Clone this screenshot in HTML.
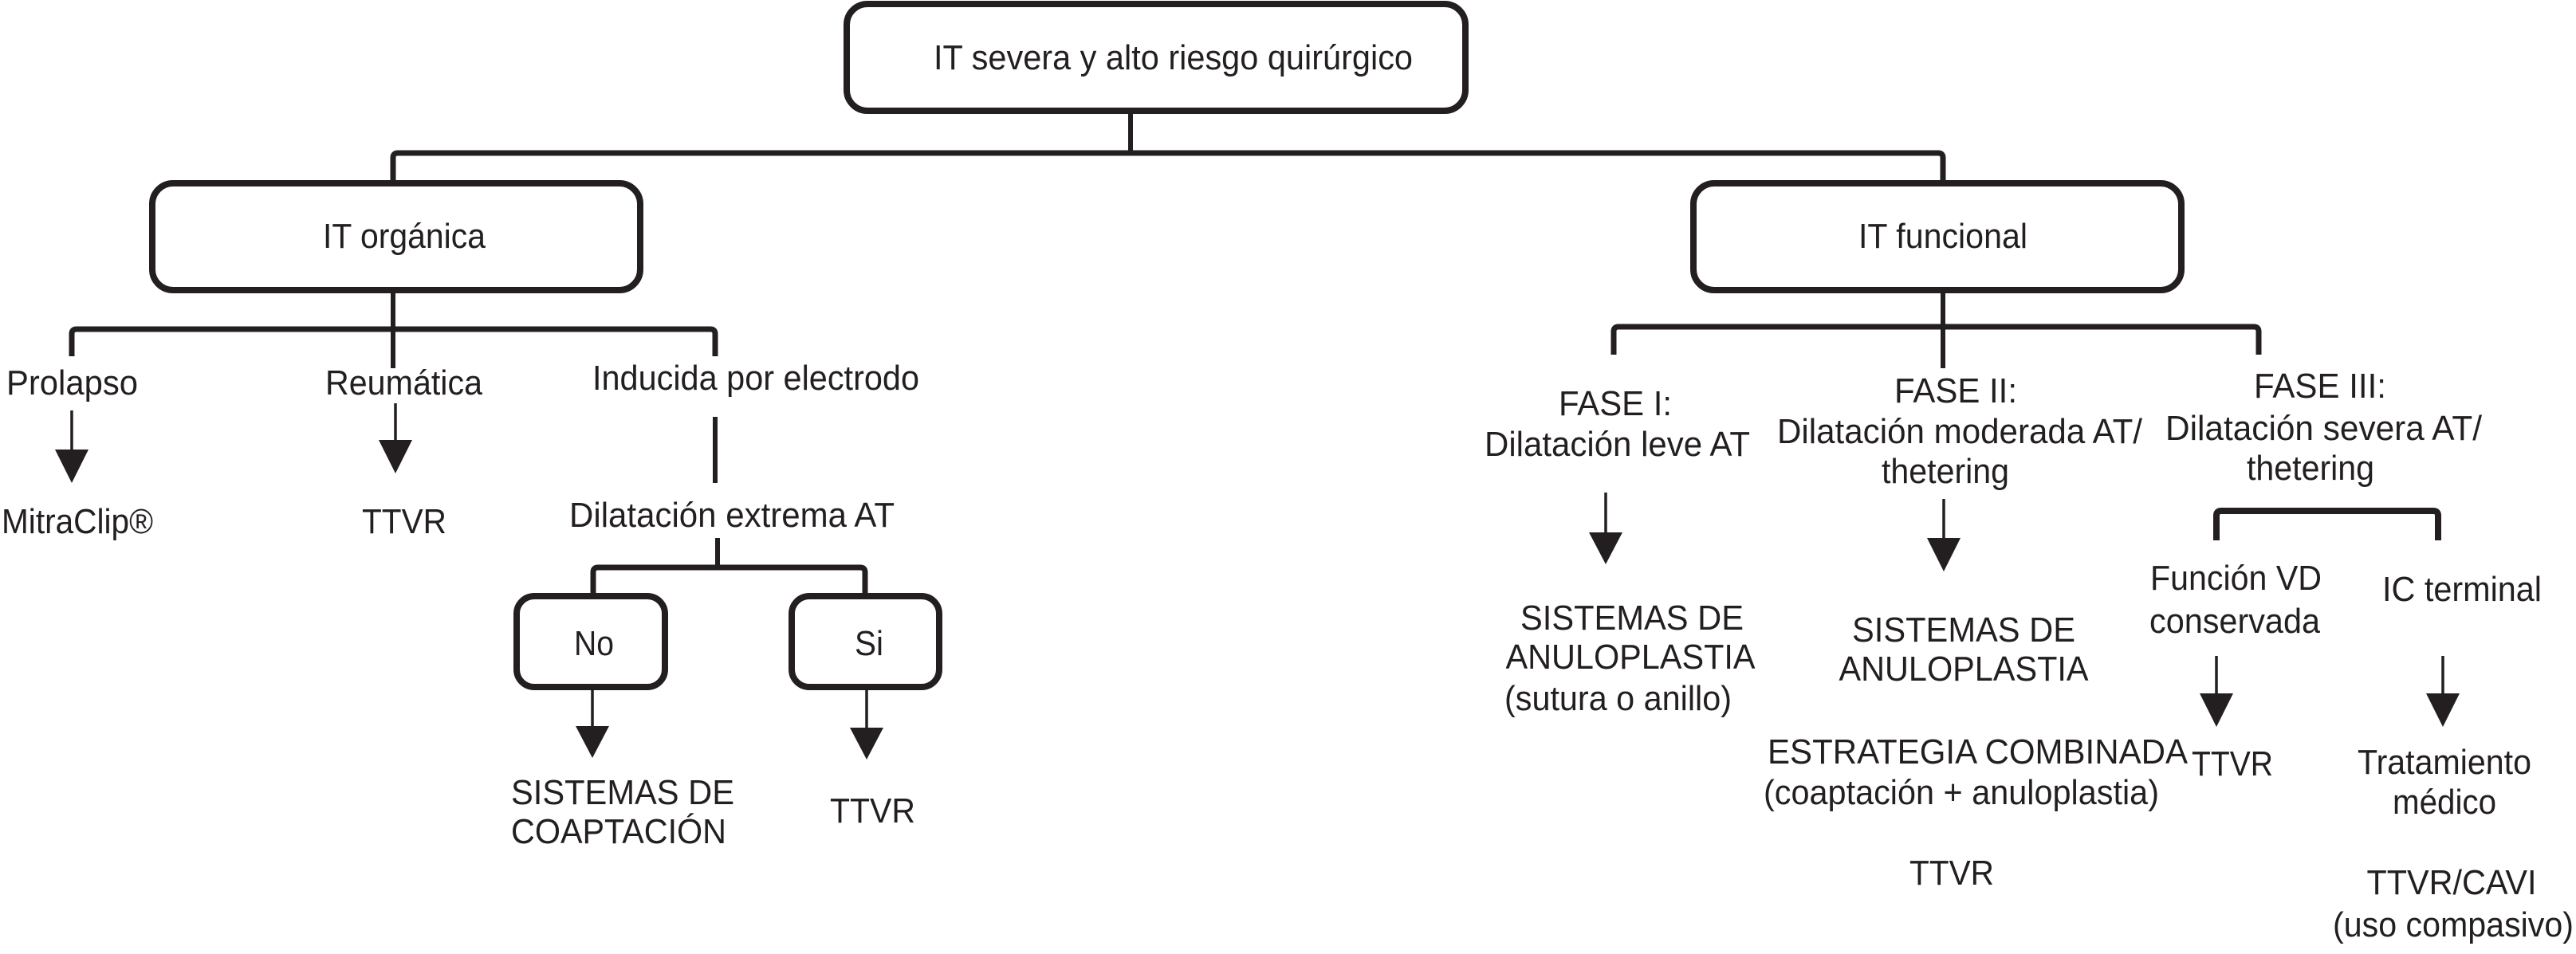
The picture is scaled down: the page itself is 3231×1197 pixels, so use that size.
<!DOCTYPE html>
<html><head><meta charset="utf-8"><style>
html,body{margin:0;padding:0;background:#fff;}
svg{display:block;}
text{font-family:"Liberation Sans",sans-serif;font-size:44px;fill:#231f20;}
</style></head><body>
<svg width="3231" height="1197" viewBox="0 0 3231 1197" xmlns="http://www.w3.org/2000/svg">
<g fill="none" stroke="#231f20" stroke-linejoin="round">
 <!-- boxes -->
 <rect x="1062" y="5" width="776" height="134" rx="26" stroke-width="8"/>
 <rect x="191" y="230" width="612" height="134" rx="26" stroke-width="8"/>
 <rect x="2124" y="230" width="612" height="134" rx="26" stroke-width="8"/>
 <rect x="648" y="748" width="186" height="114" rx="22" stroke-width="8"/>
 <rect x="993" y="748" width="185" height="114" rx="22" stroke-width="8"/>
 <!-- top connectors -->
 <path d="M1418 139 V192" stroke-width="6"/>
 <path d="M493 230 V198 Q493 192 499 192 H2431 Q2437 192 2437 198 V230" stroke-width="7"/>
 <!-- organica -->
 <path d="M493 364 V462" stroke-width="6"/>
 <path d="M90 447 V419 Q90 413 96 413 H891 Q897 413 897 419 V447" stroke-width="7"/>
 <path d="M897 523 V606" stroke-width="6"/>
 <path d="M900 675 V712" stroke-width="6"/>
 <path d="M744 748 V718 Q744 712 750 712 H1079 Q1085 712 1085 718 V748" stroke-width="7"/>
 <!-- funcional -->
 <path d="M2437 364 V462" stroke-width="6"/>
 <path d="M2024 445 V416 Q2024 410 2030 410 H2827 Q2833 410 2833 416 V445" stroke-width="7"/>
 <path d="M2780 678 V647 Q2780 641 2786 641 H3052 Q3058 641 3058 647 V678" stroke-width="8"/>
 <!-- arrow stems -->
 <path d="M90 515 V570 M496 506 V560 M743 862 V915 M1087 862 V915 M2014 618 V672 M2438 626 V680 M2780 823 V875 M3064 823 V875" stroke-width="3.5"/>
</g>
<g fill="#231f20">
 <polygon points="69,564 111,564 90,606"/>
 <polygon points="475,552 517,552 496,594"/>
 <polygon points="722,911 764,911 743,951"/>
 <polygon points="1066,913 1108,913 1087,953"/>
 <polygon points="1993,668 2035,668 2014,708"/>
 <polygon points="2417,675 2459,675 2438,717"/>
 <polygon points="2759,870 2801,870 2780,912"/>
 <polygon points="3043,870 3085,870 3064,912"/>
</g>
<g lengthAdjust="spacingAndGlyphs">
 <text x="1171" y="87" textLength="601" lengthAdjust="spacingAndGlyphs">IT severa y alto riesgo quirúrgico</text>
 <text x="507" y="311" text-anchor="middle" textLength="204" lengthAdjust="spacingAndGlyphs">IT orgánica</text>
 <text x="2437" y="311" text-anchor="middle" textLength="212" lengthAdjust="spacingAndGlyphs">IT funcional</text>
 <text x="8" y="495" textLength="165" lengthAdjust="spacingAndGlyphs">Prolapso</text>
 <text x="408" y="495" textLength="197" lengthAdjust="spacingAndGlyphs">Reumática</text>
 <text x="743" y="489" textLength="410" lengthAdjust="spacingAndGlyphs">Inducida por electrodo</text>
 <text x="2" y="669" textLength="190" lengthAdjust="spacingAndGlyphs">MitraClip®</text>
 <text x="454" y="669" textLength="106" lengthAdjust="spacingAndGlyphs">TTVR</text>
 <text x="714" y="661" textLength="408" lengthAdjust="spacingAndGlyphs">Dilatación extrema AT</text>
 <text x="745" y="822" text-anchor="middle" textLength="50" lengthAdjust="spacingAndGlyphs">No</text>
 <text x="1090" y="822" text-anchor="middle" textLength="36" lengthAdjust="spacingAndGlyphs">Si</text>
 <text x="641" y="1009" textLength="280" lengthAdjust="spacingAndGlyphs">SISTEMAS DE</text>
 <text x="641" y="1058" textLength="270" lengthAdjust="spacingAndGlyphs">COAPTACIÓN</text>
 <text x="1041" y="1032" textLength="107" lengthAdjust="spacingAndGlyphs">TTVR</text>

 <text x="2026" y="521" text-anchor="middle" textLength="142" lengthAdjust="spacingAndGlyphs">FASE I:</text>
 <text x="1862" y="572" textLength="333" lengthAdjust="spacingAndGlyphs">Dilatación leve AT</text>
 <text x="2453" y="505" text-anchor="middle" textLength="154" lengthAdjust="spacingAndGlyphs">FASE II:</text>
 <text x="2229" y="556" textLength="458" lengthAdjust="spacingAndGlyphs">Dilatación moderada AT/</text>
 <text x="2440" y="606" text-anchor="middle" textLength="160" lengthAdjust="spacingAndGlyphs">thetering</text>
 <text x="2910" y="499" text-anchor="middle" textLength="166" lengthAdjust="spacingAndGlyphs">FASE III:</text>
 <text x="2716" y="552" textLength="397" lengthAdjust="spacingAndGlyphs">Dilatación severa AT/</text>
 <text x="2898" y="602" text-anchor="middle" textLength="160" lengthAdjust="spacingAndGlyphs">thetering</text>

 <text x="2047" y="790" text-anchor="middle" textLength="280" lengthAdjust="spacingAndGlyphs">SISTEMAS DE</text>
 <text x="2045" y="839" text-anchor="middle" textLength="313" lengthAdjust="spacingAndGlyphs">ANULOPLASTIA</text>
 <text x="1887" y="891" textLength="285" lengthAdjust="spacingAndGlyphs">(sutura o anillo)</text>

 <text x="2463" y="805" text-anchor="middle" textLength="280" lengthAdjust="spacingAndGlyphs">SISTEMAS DE</text>
 <text x="2463" y="854" text-anchor="middle" textLength="313" lengthAdjust="spacingAndGlyphs">ANULOPLASTIA</text>
 <text x="2217" y="958" textLength="527" lengthAdjust="spacingAndGlyphs">ESTRATEGIA COMBINADA</text>
 <text x="2212" y="1009" textLength="496" lengthAdjust="spacingAndGlyphs">(coaptación + anuloplastia)</text>
 <text x="2448" y="1110" text-anchor="middle" textLength="106" lengthAdjust="spacingAndGlyphs">TTVR</text>

 <text x="2697" y="740" textLength="215" lengthAdjust="spacingAndGlyphs">Función VD</text>
 <text x="2803" y="794" text-anchor="middle" textLength="214" lengthAdjust="spacingAndGlyphs">conservada</text>
 <text x="2988" y="754" textLength="200" lengthAdjust="spacingAndGlyphs">IC terminal</text>
 <text x="2749" y="973" textLength="102" lengthAdjust="spacingAndGlyphs">TTVR</text>
 <text x="3066" y="971" text-anchor="middle" textLength="218" lengthAdjust="spacingAndGlyphs">Tratamiento</text>
 <text x="3066" y="1021" text-anchor="middle" textLength="130" lengthAdjust="spacingAndGlyphs">médico</text>
 <text x="3075" y="1122" text-anchor="middle" textLength="213" lengthAdjust="spacingAndGlyphs">TTVR/CAVI</text>
 <text x="2926" y="1175" textLength="302" lengthAdjust="spacingAndGlyphs">(uso compasivo)</text>
</g>
</svg>
</body></html>
